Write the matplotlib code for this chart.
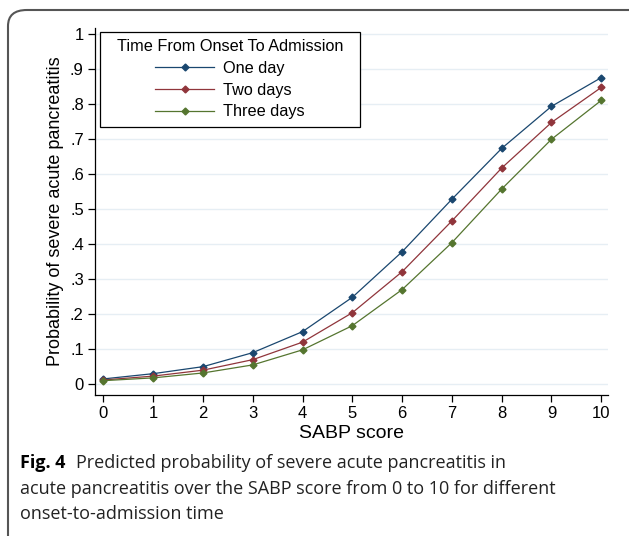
import matplotlib.pyplot as plt
from matplotlib.patches import FancyBboxPatch

# SABP score vs predicted probability
scores = [0, 1, 2, 3, 4, 5, 6, 7, 8, 9, 10]
one_day = [0.015, 0.030, 0.050, 0.090, 0.150, 0.248, 0.378, 0.528, 0.673, 0.793, 0.875]
two_days = [0.012, 0.023, 0.040, 0.070, 0.120, 0.204, 0.321, 0.466, 0.617, 0.747, 0.847]
three_days = [0.010, 0.018, 0.032, 0.055, 0.098, 0.167, 0.270, 0.404, 0.557, 0.699, 0.810]

series_names = ["One day", "Two days", "Three days"]
colors = ["#1a476f", "#90353b", "#55752f"]

yticks = [0, 0.1, 0.2, 0.3, 0.4, 0.5, 0.6, 0.7, 0.8, 0.9, 1.0]
ytick_labels = ["0", ".1", ".2", ".3", ".4", ".5", ".6", ".7", ".8", ".9", "1"]

caption = ["Predicted probability of severe acute pancreatitis in",
           "acute pancreatitis over the SABP score from 0 to 10 for different",
           "onset-to-admission time"]

plt.rcParams['font.family'] = ['Liberation Sans', 'DejaVu Sans']

fig = plt.figure(figsize=(6.29, 5.36), dpi=100)
ax = fig.add_axes([0.151, 0.263, 0.816, 0.685])

for vals, name, c in zip([one_day, two_days, three_days], series_names, colors):
    ax.plot(scores, vals, color=c, lw=0.9, marker='D', ms=3.5, label=name)

ax.set_xlim(-0.17, 10.14)
ax.set_ylim(-0.031, 1.017)
ax.set_xticks(scores)
ax.set_yticks(yticks)
ax.set_yticklabels(ytick_labels)
ax.tick_params(labelsize=12, length=5, width=0.9, direction='out', pad=3)
ax.grid(axis='y', color='#e6eef4', lw=1)
ax.set_axisbelow(True)
for s in ['top', 'right']:
    ax.spines[s].set_visible(False)
for s in ['left', 'bottom']:
    ax.spines[s].set_linewidth(0.9)

ax.set_xlabel("SABP score", fontsize=14, labelpad=3)
ax.set_ylabel("Probability of severe acute pancreatitis", fontsize=13, labelpad=4)

leg = ax.legend(title="Time From Onset To Admission", loc='upper left',
                bbox_to_anchor=(0.01, 0.99), borderaxespad=0,
                fontsize=11.7, title_fontsize=11.7,
                fancybox=False, edgecolor='black', framealpha=1,
                handlelength=3.6, handletextpad=0.55, borderpad=0.45,
                labelspacing=0.42, alignment='center')
leg.get_frame().set_linewidth(0.9)
leg._legend_box.set_width(245)

# caption
cap_font = ['Open Sans', 'DejaVu Sans']
fig.text(20/629, 1-463/536, "Fig. 4", fontsize=13, fontweight='bold',
         family=cap_font, va='center')
fig.text(76/629, 1-463/536, caption[0], fontsize=13, family=cap_font,
         va='center', color='#222222')
fig.text(20/629, 1-489/536, caption[1], fontsize=13, family=cap_font,
         va='center', color='#222222')
fig.text(20/629, 1-514/536, caption[2], fontsize=13, family=cap_font,
         va='center', color='#222222')

# rounded frame around figure
box = FancyBboxPatch((8/629, -0.1), 1.2, 1.1 - 10/536,
                     boxstyle="round,pad=0,rounding_size=0.03",
                     transform=fig.transFigure, fill=False,
                     edgecolor='#555555', lw=1.5, clip_on=False)
fig.patches.append(box)

fig.savefig("out.png", dpi=100)
